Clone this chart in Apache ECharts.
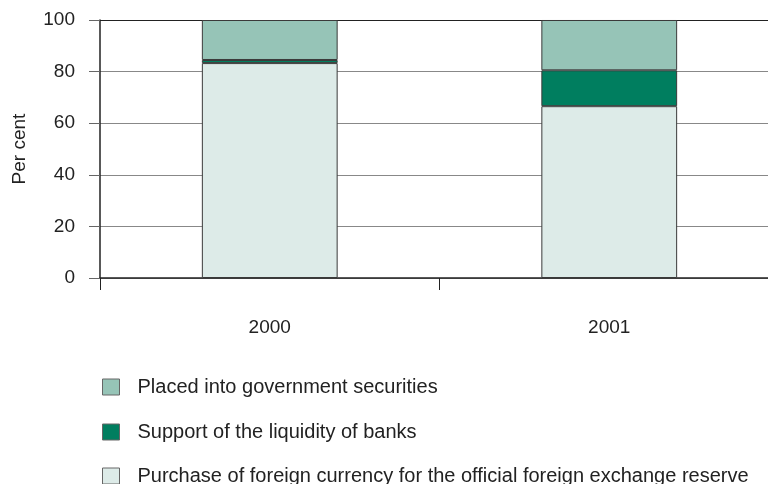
<!DOCTYPE html>
<html>
<head>
<meta charset="utf-8">
<script src="https://cdn.jsdelivr.net/npm/echarts@6/dist/echarts.min.js"></script>
<style>
  html, body { margin: 0; padding: 0; background: #fff; }
  #chart { width: 768px; height: 484px; }
</style>
</head>
<body>
<div id="chart"></div>
<script>
// Years on the category axis
const years = ['2000', '2001'];
// Shares of the total, per cent (stacked bottom to top)
const purchaseForeignCurrency = [83.3, 66.6];
const supportLiquidity = [1.2, 13.9];
const placedGovSecurities = [15.5, 19.5];
// Value axis ticks
const yTicks = [0, 20, 40, 60, 80, 100];

const seriesNames = [
  'Placed into government securities',
  'Support of the liquidity of banks',
  'Purchase of foreign currency for the official foreign exchange reserve'
];

const chart = echarts.init(document.getElementById('chart'), null, { renderer: 'canvas' });

const font = 'Liberation Sans, Arial, Helvetica, sans-serif';
const fs = 19;
const barBorder = { borderColor: '#3a3a3a', borderWidth: 1 };

// One legend block per series, stacked vertically under the plot
const legendTops = [372, 417, 461];
const legends = seriesNames.map((name, i) => ({
  orient: 'vertical',
  left: 97,
  top: legendTops[i],
  itemWidth: 17,
  itemHeight: 16,
  icon: 'rect',
  data: [name],
  textStyle: { fontSize: 20, lineHeight: 20, color: '#222', fontFamily: font, padding: [0, 0, 0, 13] },
  itemStyle: { borderColor: '#666', borderWidth: 1 }
}));

chart.setOption({
  animation: false,
  textStyle: { fontFamily: font },
  grid: {
    left: 100, right: -11, top: 20, bottom: 206,
    containLabel: false,
    outerBoundsMode: 'none'
  },
  legend: legends,
  xAxis: {
    type: 'category',
    data: years,
    boundaryGap: true,
    axisLine: { show: true, lineStyle: { color: '#222', width: 1.5 } },
    axisTick: { show: true, length: 12, lineStyle: { color: '#222', width: 1 } },
    axisLabel: { fontSize: fs, color: '#222', margin: 40, fontFamily: font },
    splitLine: { show: false }
  },
  yAxis: {
    type: 'value',
    min: yTicks[0],
    max: yTicks[yTicks.length - 1],
    interval: 20,
    name: 'Per cent',
    nameLocation: 'middle',
    nameGap: 71,
    nameRotate: 90,
    nameTextStyle: { fontSize: fs, color: '#222', fontFamily: font },
    axisLine: { show: true, lineStyle: { color: '#222', width: 1.5 } },
    axisTick: { show: true, length: 11, lineStyle: { color: '#666', width: 1 } },
    axisLabel: { fontSize: fs, color: '#222', margin: 25, fontFamily: font },
    splitLine: {
      show: true,
      lineStyle: { color: ['#888', '#888', '#888', '#888', '#888', '#222'], width: 1.2 }
    }
  },
  series: [
    {
      name: seriesNames[2],
      type: 'bar',
      stack: 'total',
      barWidth: '40%',
      data: purchaseForeignCurrency,
      itemStyle: Object.assign({ color: '#ddebe8' }, barBorder)
    },
    {
      name: seriesNames[1],
      type: 'bar',
      stack: 'total',
      barWidth: '40%',
      data: supportLiquidity,
      itemStyle: Object.assign({ color: '#007e5f' }, barBorder)
    },
    {
      name: seriesNames[0],
      type: 'bar',
      stack: 'total',
      barWidth: '40%',
      data: placedGovSecurities,
      itemStyle: Object.assign({ color: '#96c4b7' }, barBorder)
    }
  ]
});
</script>
</body>
</html>
